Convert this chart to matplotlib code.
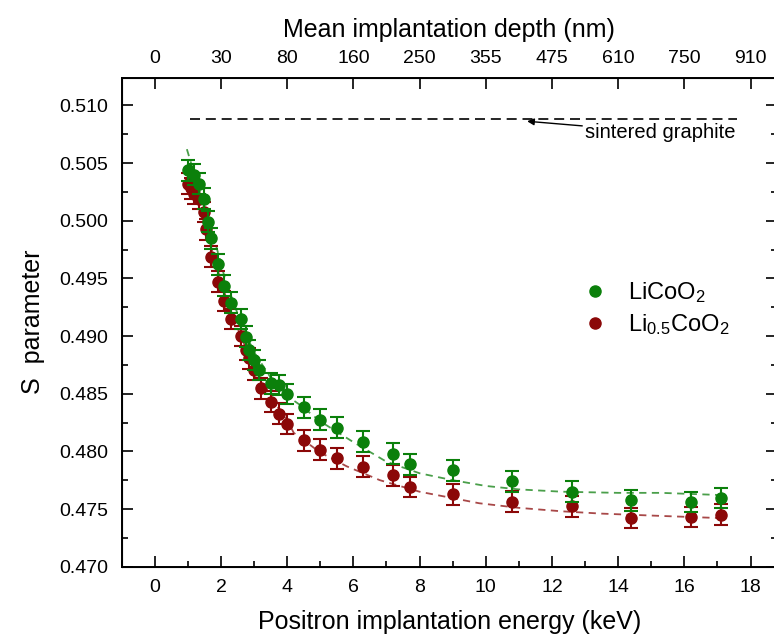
import matplotlib
matplotlib.use("Agg")
import matplotlib.pyplot as plt
from matplotlib.lines import Line2D
from matplotlib.ticker import MultipleLocator

plt.rcParams["font.family"] = ["Liberation Sans", "DejaVu Sans"]
plt.rcParams["mathtext.fontset"] = "custom"
plt.rcParams["mathtext.rm"] = "Liberation Sans"
plt.rcParams["mathtext.it"] = "Liberation Sans:italic"

# measured S parameter, LiCoO2
energy_lco = [1.0, 1.2, 1.35, 1.5, 1.6, 1.7, 1.9, 2.1, 2.3, 2.6, 2.75, 2.85, 3.0,
              3.15, 3.5, 3.75, 4.0, 4.5, 5.0, 5.5, 6.3, 7.2, 7.7, 9.0, 10.8, 12.6,
              14.4, 16.2, 17.1]
s_lco = [0.50437, 0.50400, 0.50322, 0.50192, 0.49990, 0.49846, 0.49623, 0.49436,
         0.49288, 0.49147, 0.48994, 0.48879, 0.48792, 0.48706, 0.48590, 0.48576,
         0.48498, 0.48383, 0.48273, 0.48206, 0.48085, 0.47978, 0.47889, 0.47834,
         0.47739, 0.47650, 0.47574, 0.47560, 0.47595]

# measured S parameter, Li0.5CoO2
energy_hlco = [1.0, 1.1, 1.2, 1.35, 1.5, 1.55, 1.7, 1.9, 2.1, 2.3, 2.6, 2.75, 2.85,
               3.0, 3.2, 3.5, 3.75, 4.0, 4.5, 5.0, 5.5, 6.3, 7.2, 7.7, 9.0, 10.8,
               12.6, 14.4, 16.2, 17.1]
s_hlco = [0.50322, 0.50279, 0.50235, 0.50192, 0.50076, 0.49924, 0.49687, 0.49470,
          0.49303, 0.49147, 0.49000, 0.48879, 0.48807, 0.48706, 0.48547, 0.48431,
          0.48325, 0.48238, 0.48094, 0.48013, 0.47941, 0.47868, 0.47791, 0.47690,
          0.47629, 0.47565, 0.47522, 0.47421, 0.47430, 0.47450]

s_err = 0.0009

# fitted curves
fit_energy_lco = [0.97, 1.2, 1.5, 1.8, 2.1, 2.4, 2.7, 3.0, 3.5, 4.0, 4.4, 5.0, 6.0,
                  7.0, 8.0, 9.0, 10.0, 11.0, 12.3, 14.0, 15.3, 17.2]
fit_s_lco = [0.5062, 0.5040, 0.5012, 0.4984, 0.4952, 0.4927, 0.4905, 0.4886,
             0.4864, 0.4848, 0.4840, 0.4826, 0.4808, 0.4791, 0.4781, 0.4775,
             0.4770, 0.4767, 0.4765, 0.4764, 0.4764, 0.4762]
fit_energy_hlco = [0.97, 1.2, 1.5, 1.8, 2.1, 2.4, 2.7, 3.0, 3.5, 4.0, 4.2, 5.0, 5.8,
                   6.8, 8.0, 9.8, 11.0, 12.3, 13.5, 15.3, 17.2]
fit_s_hlco = [0.5042, 0.5023, 0.4997, 0.4967, 0.4938, 0.4914, 0.4893, 0.4873,
              0.4847, 0.4827, 0.4816, 0.4799, 0.4787, 0.4775, 0.4765, 0.4755,
              0.4751, 0.4748, 0.4746, 0.4744, 0.4742]

graphite_s = 0.5088
graphite_span = [1.05, 17.6]

depth_ticks = [0, 2, 4, 6, 8, 10, 12, 14, 16, 18]
depth_labels = ["0", "30", "80", "160", "250", "355", "475", "610", "750", "910"]

green = "#0b800b"
red = "#8b0808"

fig = plt.figure(figsize=(7.74, 6.35), dpi=100)
ax = fig.add_axes([0.1572, 0.1076, 0.8467, 0.7701])

ax.plot(fit_energy_lco, fit_s_lco, ls=(0, (4, 3)), lw=1.3, color="#4a9f4a", zorder=1)
ax.plot(fit_energy_hlco, fit_s_hlco, ls=(0, (4, 3)), lw=1.3, color="#a84848", zorder=1)

ax.errorbar(energy_lco, s_lco, yerr=s_err, fmt="o", ms=8, color=green, ecolor=green,
            elinewidth=1.5, capsize=5, capthick=1.5, zorder=3)
ax.errorbar(energy_hlco, s_hlco, yerr=s_err, fmt="o", ms=8, color=red, ecolor=red,
            elinewidth=1.5, capsize=5, capthick=1.5, zorder=2)

ax.plot(graphite_span, [graphite_s, graphite_s], color="black", ls=(0, (6, 3.5)), lw=1.2)
ax.annotate("sintered graphite", xy=(11.25, 0.50862), xytext=(13.0, 0.50765),
            fontsize=14.5, va="center", ha="left",
            arrowprops=dict(arrowstyle="-|>", color="black", lw=1, mutation_scale=10,
                            shrinkA=0, shrinkB=0))

ax.set_xlim(-1, 18.8)
ax.set_ylim(0.470, 0.5124)
ax.xaxis.set_major_locator(MultipleLocator(2))
ax.xaxis.set_minor_locator(MultipleLocator(1))
ax.yaxis.set_major_locator(MultipleLocator(0.005))
ax.yaxis.set_minor_locator(MultipleLocator(0.0025))
ax.yaxis.set_major_formatter(matplotlib.ticker.FormatStrFormatter("%.3f"))
ax.tick_params(which="both", direction="in", right=True, top=False, width=1.2,
               labelsize=14)
ax.tick_params(which="major", length=8)
ax.tick_params(which="minor", length=4)
ax.tick_params(axis="x", pad=9)
ax.tick_params(axis="y", pad=10)
for spine in ax.spines.values():
    spine.set_linewidth(1.4)

ax.set_xlabel("Positron implantation energy (keV)", fontsize=18, labelpad=10)
ax.set_ylabel("S  parameter", fontsize=18, labelpad=10)

top = ax.twiny()
top.set_xlim(ax.get_xlim())
top.set_xticks(depth_ticks)
top.set_xticklabels(depth_labels)
top.tick_params(direction="in", length=8, width=1.2, labelsize=14, pad=8)
top.set_xlabel("Mean implantation depth (nm)", fontsize=18, labelpad=9)

handles = [Line2D([], [], ls="none", marker="o", ms=8, color=green),
           Line2D([], [], ls="none", marker="o", ms=8, color=red)]
ax.legend(handles, [r"LiCoO$_2$", r"Li$_{0.5}$CoO$_2$"], frameon=False, fontsize=17,
          loc="upper left", bbox_to_anchor=(0.668, 0.63), handletextpad=0.8,
          labelspacing=0.3, handlelength=1.2)

fig.savefig("out.png", dpi=100)
